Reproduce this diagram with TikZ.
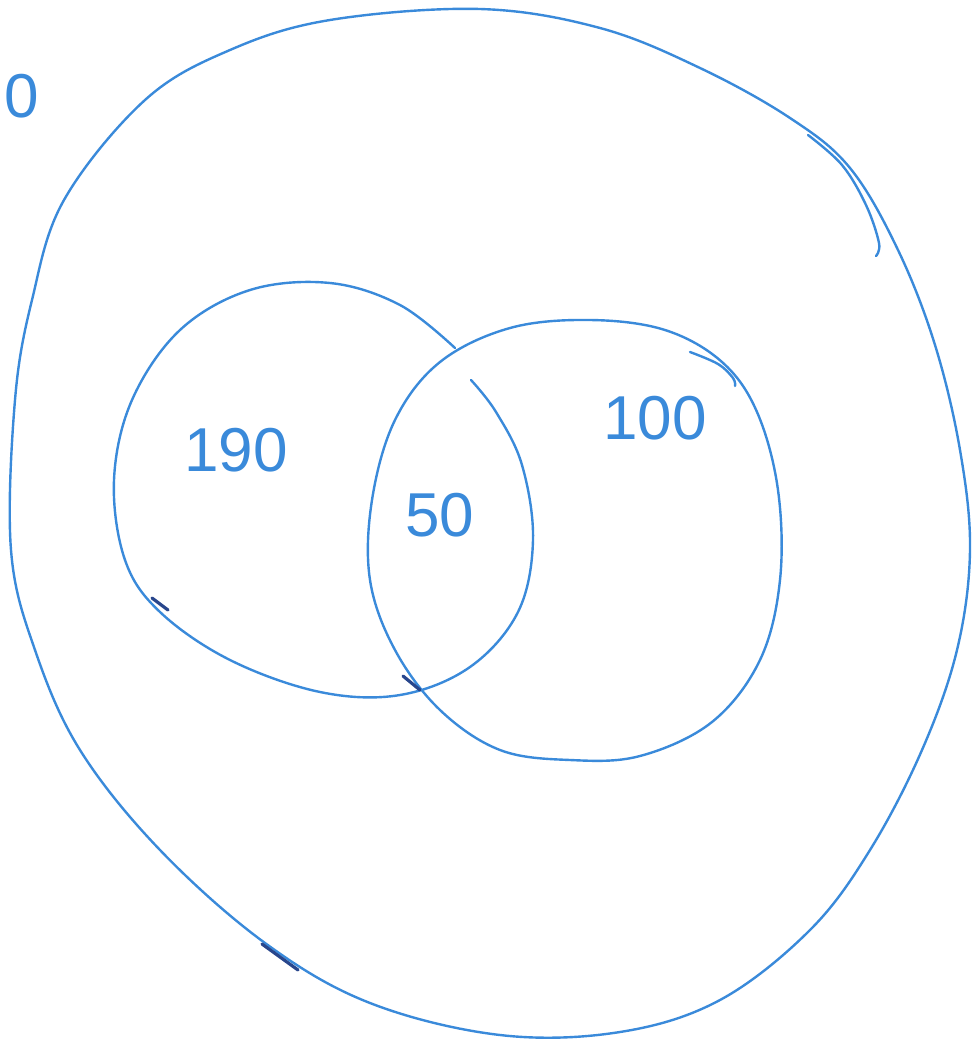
\documentclass[tikz,border=0pt]{standalone}
\usepackage{fontspec}
\setmainfont{Liberation Sans}
\definecolor{pen}{RGB}{58,138,218}
\definecolor{penink}{RGB}{40,70,140}
\tikzset{
  penline/.style={draw=pen, line width=2.4pt, line cap=round, line join=round},
  inkmark/.style={draw=penink, line width=3.2pt, line cap=round},
  numlabel/.style={text=pen, font=\fontsize{62}{62}\selectfont, inner sep=0pt}
}
\begin{document}
\begin{tikzpicture}[x=1pt,y=-1pt]
\useasboundingbox (0,0) rectangle (973,1042);
% outer region
\draw[penline] plot[smooth cycle, tension=0.6] coordinates {
 (480,9) (600,28) (700,68) (790,118) (850,168) (898,250) (935,345) (960,450)
 (970,550) (957,650) (922,750) (870,850) (810,930) (720,1000) (620,1032) (500,1035)
 (370,1003) (265,943) (160,850) (80,750) (35,650) (11,550) (15,400) (32,300)
 (64,200) (145,100) (230,50) (330,20)};
\draw[penline] plot[smooth, tension=0.6] coordinates {(808,135) (842,165) (866,205) (879,243) (876,256)};
% left circle
\draw[penline] plot[smooth, tension=0.6] coordinates {
 (455,348) (400,305) (330,283) (250,290) (180,330) (132,400) (114,480) (125,560)
 (160,612) (230,660) (320,692) (400,695) (470,667) (518,612) (533,540) (522,465)
 (496,412) (471,380)};
% right circle
\draw[penline] plot[smooth cycle, tension=0.6] coordinates {
 (590,320) (665,330) (722,362) (757,412) (778,490) (780,580) (760,660) (712,722)
 (640,756) (570,760) (500,750) (440,710) (395,650) (370,580) (372,500) (395,420)
 (440,362) (510,328)};
\draw[penline] plot[smooth, tension=0.6] coordinates {(690,352) (718,364) (733,378) (735,386)};
% dark ink marks
\draw[inkmark] (152,598) -- (168,610);
\draw[inkmark] (403,676) -- (420,690);
\draw[inkmark] (262,944) -- (298,970);
% labels
\node[numlabel] (u) at (22,96) {0};
\node[numlabel] (a) at (236,450) {190};
\node[numlabel] (ab) at (440,515) {50};
\node[numlabel] (b) at (655,418) {100};
\end{tikzpicture}
\end{document}
